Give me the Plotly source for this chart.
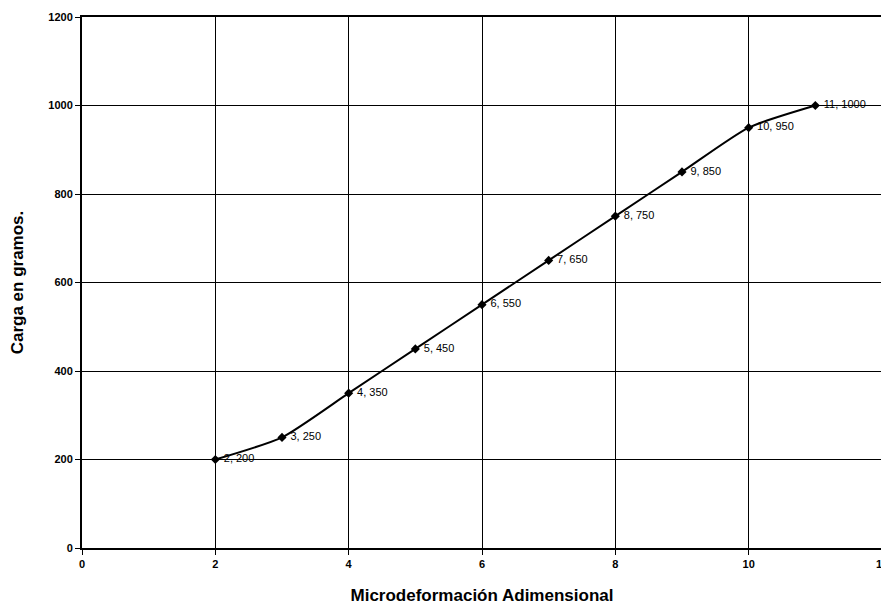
import plotly.graph_objects as go

x_vals = [2, 3, 4, 5, 6, 7, 8, 9, 10, 11]
y_vals = [200, 250, 350, 450, 550, 650, 750, 850, 950, 1000]
labels = [f" {x}, {y}" for x, y in zip(x_vals, y_vals)]

x_title = "Microdeformación Adimensional"
y_title = "Carga en gramos."

fig = go.Figure()
fig.add_trace(go.Scatter(
    x=x_vals, y=y_vals, mode="lines+markers+text",
    line=dict(color="black", width=2, shape="spline", smoothing=0.6),
    marker=dict(symbol="diamond", size=7, color="black"),
    text=labels, textposition="middle right",
    textfont=dict(family="Arial, Liberation Sans", size=11, color="#000000"),
    cliponaxis=False, showlegend=False,
))

axis_common = dict(
    showgrid=True, gridcolor="black", gridwidth=1,
    showline=True, linecolor="black", linewidth=2, mirror=True,
    ticks="outside", ticklen=5, tickcolor="black",
    zeroline=False, automargin=False,
    tickfont=dict(family="Arial, Liberation Sans", size=11, color="black", weight="bold"),
)

fig.update_xaxes(range=[0, 12], dtick=2, tick0=0,
                 title=dict(text=x_title, font=dict(family="Arial, Liberation Sans", size=17, color="black", weight="bold"), standoff=20),
                 **axis_common)
fig.update_yaxes(range=[0, 1200], dtick=200, tick0=0,
                 title=dict(text=y_title, font=dict(family="Arial, Liberation Sans", size=17, color="black", weight="bold"), standoff=24),
                 **axis_common)

fig.update_layout(
    width=881, height=602,
    margin=dict(l=74, r=7, t=9, b=62, autoexpand=False),
    plot_bgcolor="white", paper_bgcolor="white",
)

fig.write_html("out.html")
